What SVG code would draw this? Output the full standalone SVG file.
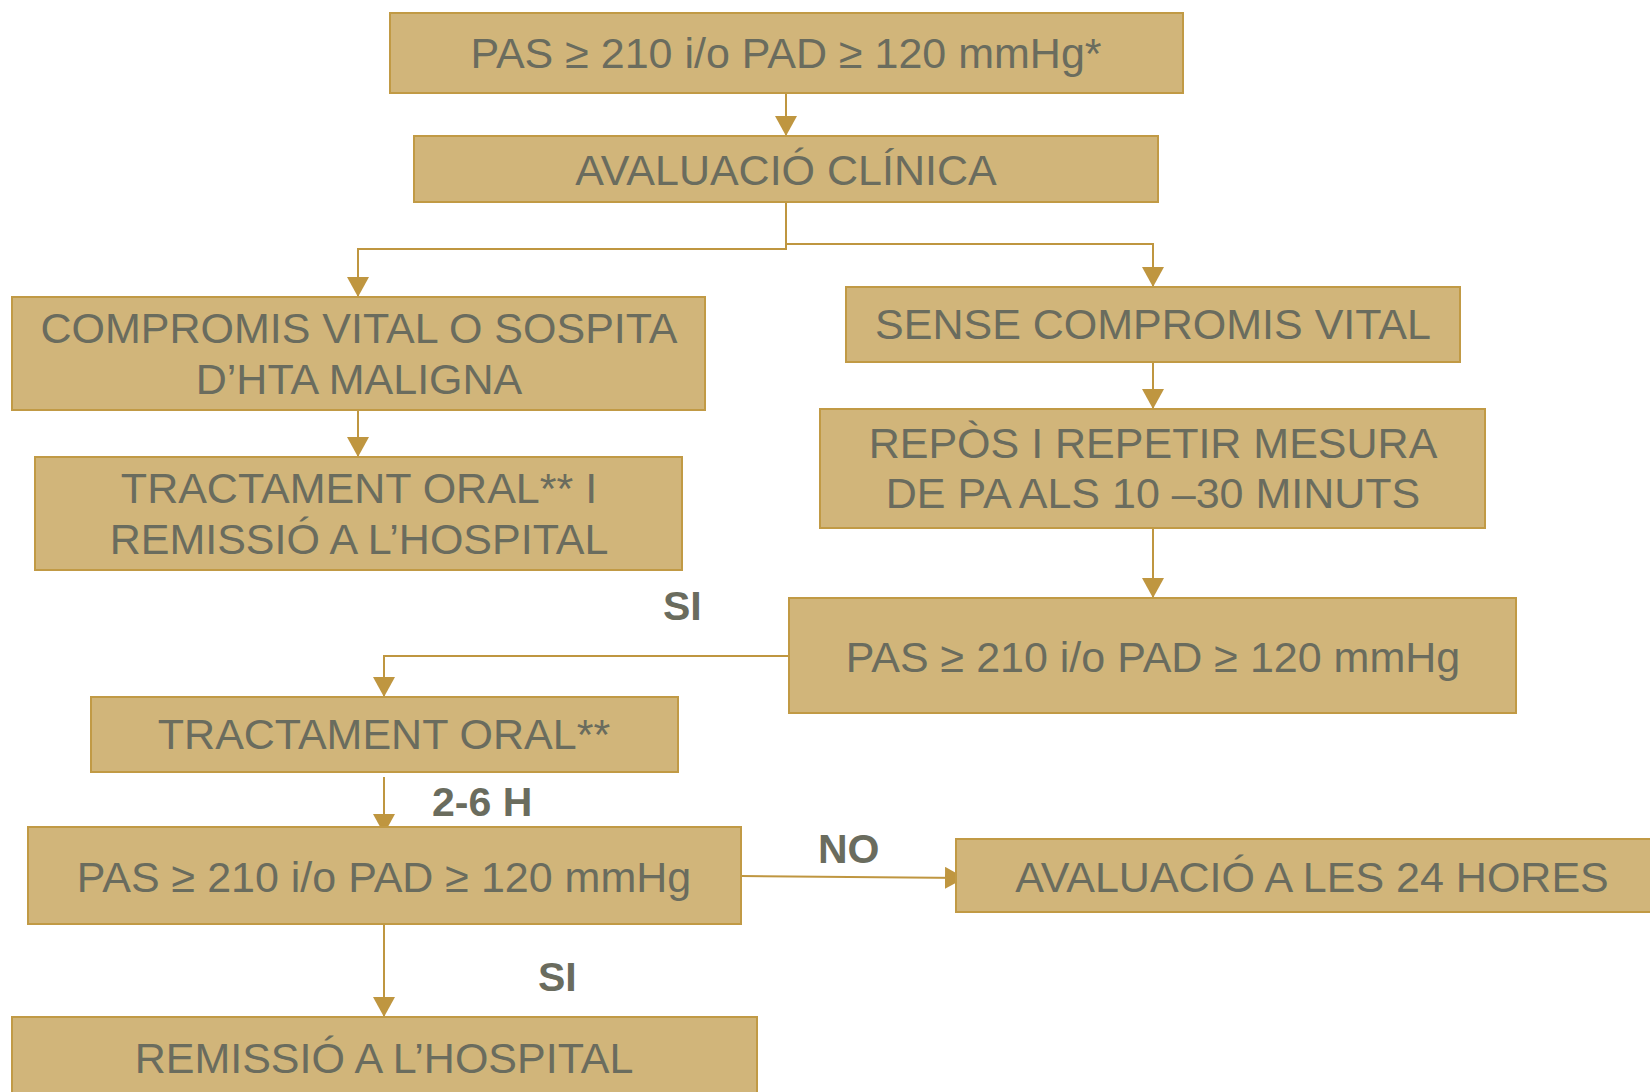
<svg xmlns="http://www.w3.org/2000/svg" width="1650" height="1092" viewBox="0 0 1650 1092">
<defs>
<style>
.box{fill:#d1b57a;stroke:#c19a45;stroke-width:2}
.t{font-family:"Liberation Sans",Arial,sans-serif;font-size:43px;fill:#6a6c5e;text-anchor:middle}
.lbl{font-family:"Liberation Sans",Arial,sans-serif;font-size:41px;font-weight:bold;fill:#6a6c5e}
.c{fill:none;stroke:#bf9640;stroke-width:2;marker-end:url(#ah)}
</style>
<marker id="ah" viewBox="0 0 20 22" refX="20" refY="11" markerWidth="20" markerHeight="22" markerUnits="userSpaceOnUse" orient="auto">
<path d="M0,0 L20,11 L0,22 z" fill="#bf9640"/>
</marker>
</defs>
<rect width="1650" height="1092" fill="#ffffff"/>
<g id="connectors">
<path class="c" d="M786,93 V136"/>
<path class="c" d="M786,202 V249 H358 V297"/>
<path class="c" d="M786,244 H1153 V287"/>
<path class="c" d="M358,410 V457"/>
<path class="c" d="M1153,362 V409"/>
<path class="c" d="M1153,528 V598"/>
<path class="c" d="M789,656 H384 V697"/>
<path class="c" d="M384,777 V834"/>
<path class="c" d="M384,924 V1017"/>
<path class="c" d="M741,876 L965,878"/>
</g>
<g id="labels">
<text class="lbl" x="663" y="620">SI</text>
<text class="lbl" x="432" y="816">2-6 H</text>
<text class="lbl" x="818" y="863">NO</text>
<text class="lbl" x="538" y="991">SI</text>
</g>
<g id="n1"><rect class="box" x="390" y="13" width="793" height="80"/><text class="t" x="786" y="68">PAS ≥ 210 i/o PAD ≥ 120 mmHg*</text></g>
<g id="n2"><rect class="box" x="414" y="136" width="744" height="66"/><text class="t" x="786" y="185">AVALUACIÓ CLÍNICA</text></g>
<g id="n3"><rect class="box" x="12" y="297" width="693" height="113"/><text class="t" x="359" y="343">COMPROMIS VITAL O SOSPITA</text><text class="t" x="359" y="394">D’HTA MALIGNA</text></g>
<g id="n4"><rect class="box" x="35" y="457" width="647" height="113"/><text class="t" x="359" y="503">TRACTAMENT ORAL** I</text><text class="t" x="359" y="554">REMISSIÓ A L’HOSPITAL</text></g>
<g id="n5"><rect class="box" x="846" y="287" width="614" height="75"/><text class="t" x="1153" y="339">SENSE COMPROMIS VITAL</text></g>
<g id="n6"><rect class="box" x="820" y="409" width="665" height="119"/><text class="t" x="1153" y="458">REPÒS I REPETIR MESURA</text><text class="t" x="1153" y="508">DE PA ALS 10 –30 MINUTS</text></g>
<g id="n7"><rect class="box" x="789" y="598" width="727" height="115"/><text class="t" x="1153" y="672">PAS ≥ 210 i/o PAD ≥ 120 mmHg</text></g>
<g id="n8"><rect class="box" x="91" y="697" width="587" height="75"/><text class="t" x="384" y="749">TRACTAMENT ORAL**</text></g>
<g id="n9"><rect class="box" x="28" y="827" width="713" height="97"/><text class="t" x="384" y="892">PAS ≥ 210 i/o PAD ≥ 120 mmHg</text></g>
<g id="n10"><rect class="box" x="12" y="1017" width="745" height="100"/><text class="t" x="384" y="1073">REMISSIÓ A L’HOSPITAL</text></g>
<g id="n11"><rect class="box" x="956" y="839" width="712" height="73"/><text class="t" x="1312" y="892">AVALUACIÓ A LES 24 HORES</text></g>
</svg>
